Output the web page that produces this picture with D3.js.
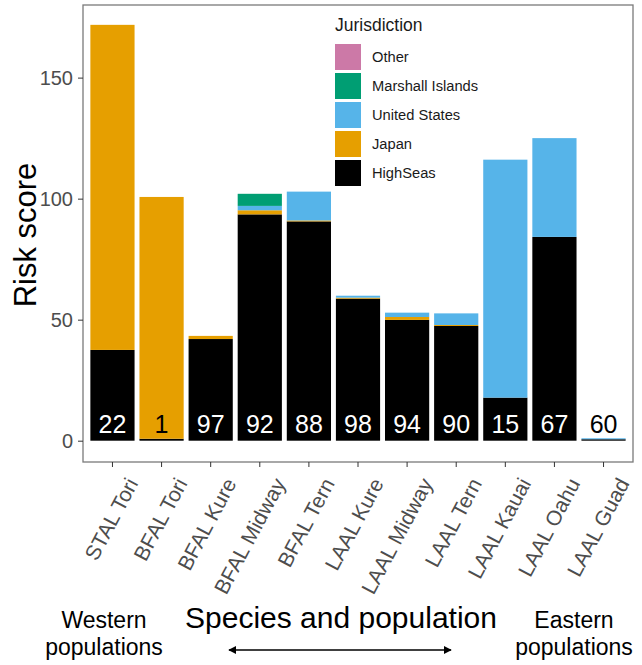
<!DOCTYPE html>
<html>
<head>
<meta charset="utf-8">
<script src="https://cdn.jsdelivr.net/npm/d3@7"></script>
<style>
  body { margin: 0; background: #fff; }
  svg { display: block; font-family: 'Liberation Sans', Arial, sans-serif; }
</style>
</head>
<body>
<div class="canvas"></div>
<script>
const populations = ['STAL Tori', 'BFAL Tori', 'BFAL Kure', 'BFAL Midway', 'BFAL Tern',
    'LAAL Kure', 'LAAL Midway', 'LAAL Tern', 'LAAL Kauai', 'LAAL Oahu', 'LAAL Guad']
const highSeas       = [37.5, 0.8, 42.0, 93.5, 90.6, 58.7, 49.9, 47.4, 17.8, 84.2, 0.6]
const japan          = [134.3, 99.9, 1.3, 1.7, 0.4, 0.4, 1.2, 0.4, 0, 0, 0]
const unitedStates   = [0, 0, 0, 1.8, 11.9, 0.8, 1.8, 4.8, 98.3, 40.8, 0.4]
const marshallIslands = [0, 0, 0, 5.0, 0, 0, 0, 0, 0, 0, 0]
const other          = [0, 0, 0, 0, 0, 0, 0, 0, 0, 0, 0]
const barLabels      = [22, 1, 97, 92, 88, 98, 94, 90, 15, 67, 60]
const yTicks = [0, 50, 100, 150]

// stacking order bottom -> top, legend shows reversed
const jurisdictions = ['HighSeas', 'Japan', 'United States', 'Marshall Islands', 'Other']
const seriesValues = [highSeas, japan, unitedStates, marshallIslands, other]

const colors = d3.scaleOrdinal()
    .domain(jurisdictions)
    .range(['#000000', '#E69F00', '#56B4E9', '#009E73', '#CC79A7'])

const dims = { width: 642, height: 665 }
const panel = { left: 83, right: 633, top: 5, bottom: 462 }

const svg = d3.select('.canvas')
    .append('svg')
    .attr('width', dims.width)
    .attr('height', dims.height)

const x = d3.scaleBand()
    .domain(populations)
    .range([panel.left, panel.right])
    .paddingInner(0.1)
    .paddingOuter(0.15)

const y = d3.scaleLinear()
    .domain([-8.8, 180])
    .range([panel.bottom, panel.top])

// build table for d3.stack
const table = populations.map((p, i) => {
    const row = { population: p }
    jurisdictions.forEach((j, k) => row[j] = seriesValues[k][i])
    return row
})

const stacked = d3.stack().keys(jurisdictions)(table)

const graph = svg.append('g')

graph.selectAll('g.layer')
    .data(stacked)
    .enter()
    .append('g')
    .attr('class', 'layer')
    .attr('fill', d => colors(d.key))
    .selectAll('rect')
    .data(d => d.filter(s => s[1] - s[0] > 0))
    .enter()
    .append('rect')
    .attr('x', d => x(d.data.population))
    .attr('width', x.bandwidth())
    .attr('y', d => y(d[1]))
    .attr('height', d => Math.max(0.8, y(d[0]) - y(d[1])))

// numbers at bottom of bars
graph.selectAll('text.count')
    .data(populations)
    .enter()
    .append('text')
    .attr('class', 'count')
    .attr('x', d => x(d) + x.bandwidth() / 2)
    .attr('y', y(0) - 8)
    .attr('text-anchor', 'middle')
    .attr('font-size', 25)
    .attr('fill', (d, i) => highSeas[i] < 5 ? '#000' : '#fff')
    .text((d, i) => barLabels[i])

// panel border
svg.append('rect')
    .attr('x', panel.left)
    .attr('y', panel.top)
    .attr('width', panel.right - panel.left)
    .attr('height', panel.bottom - panel.top)
    .attr('fill', 'none')
    .attr('stroke', '#7a7a7a')
    .attr('stroke-width', 1.3)

// y axis
const yAxis = svg.append('g')
    .attr('transform', `translate(${panel.left}, 0)`)
    .call(d3.axisLeft(y).tickValues(yTicks).tickSize(5).tickPadding(5))
yAxis.select('.domain').remove()
yAxis.selectAll('line').attr('stroke', '#333')
yAxis.selectAll('text')
    .attr('font-size', 20)
    .attr('fill', '#4d4d4d')
    .attr('font-family', "'Liberation Sans', Arial, sans-serif")

// x axis
const xAxis = svg.append('g')
    .attr('transform', `translate(0, ${panel.bottom})`)
    .call(d3.axisBottom(x).tickSize(5).tickPadding(0))
xAxis.select('.domain').remove()
xAxis.selectAll('line').attr('stroke', '#333')
xAxis.selectAll('text')
    .attr('font-size', 21)
    .attr('fill', '#4d4d4d')
    .attr('font-family', "'Liberation Sans', Arial, sans-serif")
    .attr('text-anchor', 'end')
    .attr('x', 0)
    .attr('y', 0)
    .attr('dy', '0.72em')
    .attr('transform', 'translate(13, 14) rotate(-62)')

// y title
svg.append('text')
    .attr('transform', 'translate(36, 235) rotate(-90)')
    .attr('text-anchor', 'middle')
    .attr('font-size', 31)
    .attr('fill', '#000')
    .text('Risk score')

// bottom annotations
svg.append('text')
    .attr('x', 341)
    .attr('y', 628)
    .attr('text-anchor', 'middle')
    .attr('font-size', 30)
    .text('Species and population')

const sideNotes = [
    { x: 104, lines: ['Western', 'populations'] },
    { x: 574, lines: ['Eastern', 'populations'] }
]
sideNotes.forEach(n => {
    n.lines.forEach((l, i) => {
        svg.append('text')
            .attr('x', n.x)
            .attr('y', 628 + i * 27)
            .attr('text-anchor', 'middle')
            .attr('font-size', 23)
            .text(l)
    })
})

// double arrow
const defs = svg.append('defs')
defs.append('marker')
    .attr('id', 'arrowhead')
    .attr('viewBox', '0 0 10 10')
    .attr('refX', 9)
    .attr('refY', 5)
    .attr('markerWidth', 5)
    .attr('markerHeight', 5)
    .attr('orient', 'auto-start-reverse')
    .append('path')
    .attr('d', 'M0,0 L10,5 L0,10 z')
    .attr('fill', '#000')

svg.append('line')
    .attr('x1', 229)
    .attr('x2', 451)
    .attr('y1', 650)
    .attr('y2', 650)
    .attr('stroke', '#000')
    .attr('stroke-width', 1.6)
    .attr('marker-start', 'url(#arrowhead)')
    .attr('marker-end', 'url(#arrowhead)')

// legend
const legend = svg.append('g')
    .attr('transform', 'translate(335, 0)')

legend.append('text')
    .attr('x', 0)
    .attr('y', 31)
    .attr('font-size', 17.5)
    .attr('fill', '#1a1a1a')
    .text('Jurisdiction')

const legendItems = jurisdictions.slice().reverse()
const items = legend.selectAll('g.item')
    .data(legendItems)
    .enter()
    .append('g')
    .attr('class', 'item')
    .attr('transform', (d, i) => `translate(0, ${44 + i * 29})`)

items.append('rect')
    .attr('width', 26)
    .attr('height', 26)
    .attr('fill', d => colors(d))

items.append('text')
    .attr('x', 37)
    .attr('y', 13)
    .attr('dy', '0.36em')
    .attr('font-size', 14.7)
    .attr('fill', '#1a1a1a')
    .text(d => d)
</script>
</body>
</html>
